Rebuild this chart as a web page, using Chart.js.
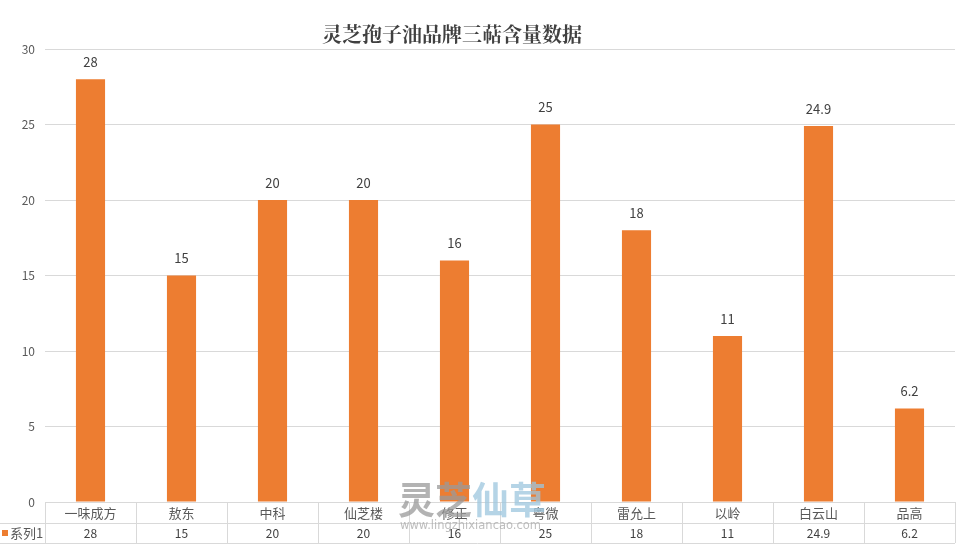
<!DOCTYPE html>
<html>
<head>
    <meta charset="utf-8">
    <title>灵芝孢子油品牌三萜含量数据</title>
    <script src="https://cdn.jsdelivr.net/npm/chart.js"></script>
    <style>
        html, body { margin: 0; padding: 0; background: #fff; }
        #wrap { width: 963px; height: 553px; position: relative; }
    </style>
</head>
<body>
    <div id="wrap"><canvas id="brandChart" width="963" height="553"></canvas></div>
    <script>
        const brands = ['一味成方', '敖东', '中科', '仙芝楼', '修正', '粤微', '雷允上', '以岭', '白云山', '品高'];
        const triterpene = [28, 15, 20, 20, 16, 25, 18, 11, 24.9, 6.2];
        const seriesName = '系列1';
        const yTicks = [0, 5, 10, 15, 20, 25, 30];

        const CJK = '"Noto Sans CJK SC", "Microsoft YaHei", sans-serif';
        const orange = '#ED7D31';
        const lineGray = '#d9d9d9';

        // value labels over bars + data table under the plot
        const tablePlugin = {
            id: 'tablePlugin',
            afterDatasetsDraw(chart) {
                const ctx = chart.ctx;
                const x = chart.scales.x;
                const area = chart.chartArea;
                const meta = chart.getDatasetMeta(0);
                ctx.save();
                ctx.fillStyle = '#404040';
                ctx.font = '13px ' + CJK;
                ctx.textAlign = 'center';
                ctx.textBaseline = 'middle';
                meta.data.forEach((bar, i) => {
                    ctx.fillText(String(triterpene[i]), bar.x, bar.y - 17);
                });

                const step = (area.right - area.left) / brands.length;
                const row1 = area.bottom + 21;
                const row2 = area.bottom + 41;
                ctx.strokeStyle = lineGray;
                ctx.lineWidth = 1;
                ctx.beginPath();
                for (let i = 0; i <= brands.length; i++) {
                    const lx = Math.round(area.left + step * i) + 0.5;
                    ctx.moveTo(lx, area.bottom);
                    ctx.lineTo(lx, row2);
                }
                ctx.moveTo(0, row1 + 0.5);
                ctx.lineTo(area.right, row1 + 0.5);
                ctx.moveTo(0, row2 + 0.5);
                ctx.lineTo(area.right, row2 + 0.5);
                ctx.stroke();

                brands.forEach((b, i) => {
                    const cx = x.getPixelForValue(i);
                    ctx.fillStyle = '#595959';
                    ctx.font = '13px ' + CJK;
                    ctx.fillText(b, cx, area.bottom + 11);
                    ctx.font = '12px ' + CJK;
                    ctx.fillStyle = '#404040';
                    ctx.fillText(String(triterpene[i]), cx, row1 + 10.5);
                });

                // legend key in the table
                ctx.fillStyle = orange;
                ctx.fillRect(2, row1 + 7, 6, 6);
                ctx.fillStyle = '#595959';
                ctx.font = '13px ' + CJK;
                ctx.textAlign = 'left';
                ctx.fillText(seriesName, 10, row1 + 10.5);

                // title
                ctx.textAlign = 'center';
                ctx.fillStyle = '#404040';
                ctx.font = 'bold 20px "Noto Serif CJK SC", "Noto Sans CJK SC", serif';
                ctx.fillText('灵芝孢子油品牌三萜含量数据', 452, 34);

                // watermark
                ctx.globalAlpha = 0.75;
                ctx.font = 'bold 37px ' + CJK;
                ctx.textAlign = 'left';
                ctx.fillStyle = '#9a9a9a';
                ctx.fillText('灵芝', 398, 500);
                ctx.fillStyle = '#9cc6dd';
                ctx.fillText('仙草', 472, 500);
                ctx.fillStyle = '#a8a8a8';
                ctx.font = '11.5px "DejaVu Sans", sans-serif';
                ctx.fillText('www.lingzhixiancao.com', 400, 526);
                ctx.restore();
            }
        };

        const ctx = document.getElementById('brandChart').getContext('2d');
        new Chart(ctx, {
            type: 'bar',
            data: {
                labels: brands,
                datasets: [{
                    label: seriesName,
                    data: triterpene,
                    backgroundColor: orange,
                    borderWidth: 0,
                    categoryPercentage: 1,
                    barPercentage: 0.32
                }]
            },
            options: {
                responsive: false,
                animation: false,
                layout: { padding: { top: 49, right: 8, bottom: 51, left: 0 } },
                plugins: {
                    legend: { display: false },
                    title: { display: false },
                    tooltip: { enabled: false }
                },
                scales: {
                    x: { display: false },
                    y: {
                        min: 0,
                        max: 30,
                        afterBuildTicks: s => { s.ticks = yTicks.map(v => ({ value: v })); },
                        afterFit: s => { s.width = 45; },
                        border: { display: false },
                        grid: { color: lineGray, drawTicks: false },
                        ticks: {
                            color: '#595959',
                            font: { size: 12, family: CJK },
                            padding: 10
                        }
                    }
                }
            },
            plugins: [tablePlugin]
        });
    </script>
</body>
</html>
